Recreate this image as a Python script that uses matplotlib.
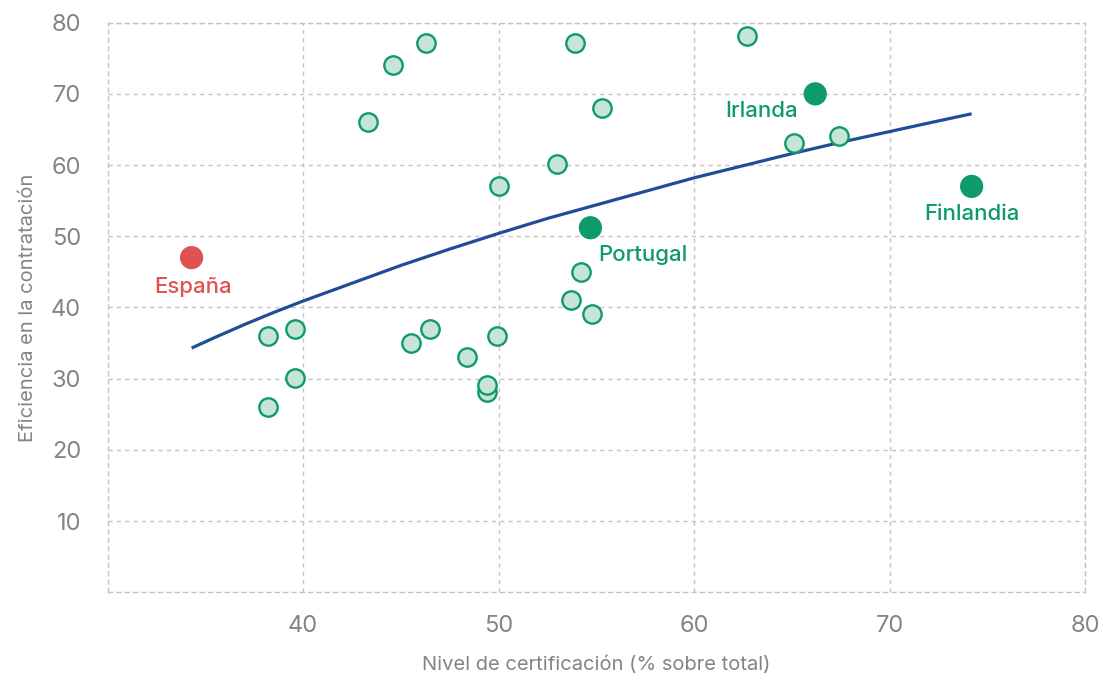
import matplotlib
matplotlib.use("Agg")
import matplotlib.pyplot as plt
import numpy as np

plt.rcParams['font.family'] = ['Inter', 'DejaVu Sans']

# Other countries
cert = [38.2, 39.6, 39.6, 38.2, 43.3, 44.6, 46.3, 45.5, 46.5, 48.4, 49.4, 49.4,
        49.9, 50.0, 53.0, 53.9, 55.3, 54.2, 53.7, 54.8, 62.7, 65.1, 67.4]
efic = [36.0, 37.0, 30.1, 26.0, 66.1, 74.1, 77.2, 35.0, 37.0, 33.0, 28.1, 29.1,
        36.0, 57.0, 60.1, 77.2, 68.0, 45.0, 41.1, 39.1, 78.1, 63.1, 64.1]

# Highlighted countries
hl_names = ["España", "Portugal", "Irlanda", "Finlandia"]
hl_cert = [34.3, 54.7, 66.2, 74.2]
hl_efic = [47.0, 51.2, 70.0, 57.0]

# Trend curve
trend_x = [34.3, 35.5, 37, 38.5, 40, 42.5, 45, 47.5, 50, 52.5, 55, 57.5, 60,
           62.5, 65, 67.5, 70, 72, 74.2]
trend_y = [34.3, 35.8, 37.6, 39.3, 40.9, 43.4, 45.9, 48.2, 50.4, 52.5, 54.4,
           56.3, 58.2, 59.9, 61.6, 63.2, 64.7, 65.9, 67.2]

x_ticks = [40, 50, 60, 70, 80]
y_ticks = [10, 20, 30, 40, 50, 60, 70, 80]

GREEN = "#0f9a6c"
LIGHT = "#c6e5d7"
RED = "#e05252"
BLUE = "#1f4e96"
GRID = "#c4c4c4"
TXT = "#848484"

fig = plt.figure(figsize=(11.03, 6.80), dpi=100)
ax = fig.add_axes([0.0975, 0.129, 0.8862, 0.8377])
ax.set_xlim(30, 80)
ax.set_ylim(0, 80)

ax.set_xticks(x_ticks)
ax.set_yticks(y_ticks)
ax.grid(True, color=GRID, linestyle=(0, (3, 3)), linewidth=1.0)
ax.set_axisbelow(True)
for s in ax.spines.values():
    s.set_color(GRID)
    s.set_linestyle((0, (3, 3)))
    s.set_linewidth(1.0)
ax.tick_params(length=0, labelsize=17, colors=TXT)
ax.tick_params(axis='x', pad=16)
ax.tick_params(axis='y', pad=19)

ax.plot(trend_x, trend_y, color=BLUE, linewidth=2.3, zorder=2, solid_capstyle='butt')

ax.scatter(cert, efic, s=175, facecolor=LIGHT, edgecolor=GREEN, linewidth=1.7, zorder=3)

colors = [RED, GREEN, GREEN, GREEN]
ax.scatter(hl_cert, hl_efic, s=280, facecolor=colors, edgecolor='none', zorder=4)

label_pos = [(34.4, 42.9, 'center'), (55.1, 47.3, 'left'), (65.3, 67.6, 'right'), (74.2, 53.1, 'center')]
for name, c, (lx, ly, ha) in zip(hl_names, colors, label_pos):
    ax.text(lx, ly, name, color=c, fontsize=16, fontweight='medium', ha=ha, va='center', zorder=5)

ax.set_xlabel("Nivel de certificación (% sobre total)", fontsize=14.5, color=TXT, labelpad=14)
ax.set_ylabel("Eficiencia en la contratación", fontsize=14.5, color=TXT, labelpad=10)

fig.savefig("out.png", dpi=100)
